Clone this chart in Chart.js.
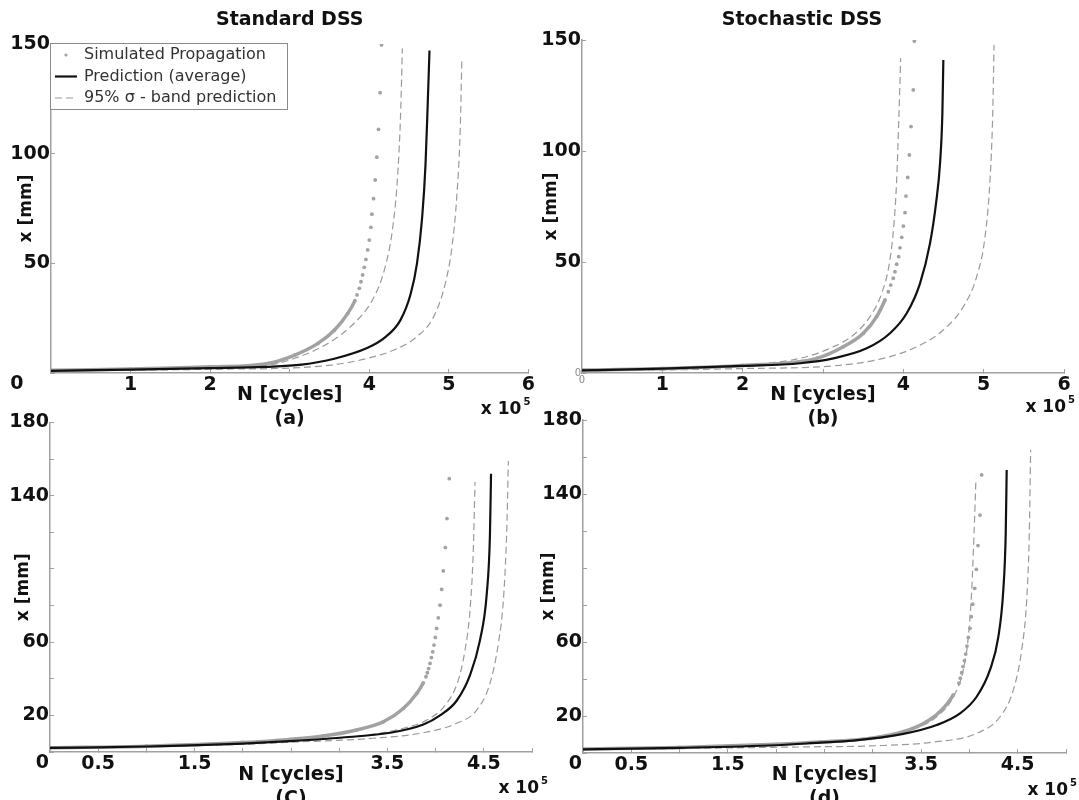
<!DOCTYPE html>
<html>
<head>
<meta charset="utf-8">
<script src="https://cdn.jsdelivr.net/npm/chart.js@4.4.1/dist/chart.umd.min.js"></script>
<style>
    html, body { margin: 0; padding: 0; background: #fff; overflow: hidden; }
    body { width: 1079px; height: 800px; position: relative; }
    canvas { position: absolute; }
</style>
</head>
<body>
<canvas id="chartA" width="540" height="440" style="left:0;top:0"></canvas>
<canvas id="chartB" width="539" height="440" style="left:540px;top:0"></canvas>
<canvas id="chartC" width="560" height="440" style="left:0;top:400px"></canvas>
<canvas id="chartD" width="539" height="440" style="left:540px;top:400px"></canvas>
<script>
// N in units of 1e5 cycles, x in mm

// (a) Standard DSS
var simA = [[0, 1.2], [1, 1.8], [2, 2.8], [2.73, 4.4], [3.065, 8.2], [3.355, 13.5], [3.564, 19.6], [3.73, 27.2], [3.82, 33],
    [3.846, 35.6], [3.875, 38.6], [3.896, 41.6], [3.917, 44.7], [3.937, 48.2], [3.958, 51.8], [3.98, 56.1], [4.0, 60.6],
    [4.02, 66.4], [4.033, 72.4], [4.054, 79.5], [4.075, 88], [4.095, 98.4], [4.116, 111.1], [4.137, 127.8], [4.154, 149.6]];
var avgA = [[0, 1.0], [1, 1.5], [2, 2.2], [2.7, 2.8], [3.15, 3.8], [3.56, 6.5], [3.98, 11.5], [4.19, 16], [4.39, 24],
    [4.52, 36], [4.60, 50], [4.665, 71], [4.707, 95], [4.736, 124], [4.757, 147]];
var lowA = [[0, 1.2], [1, 1.6], [2, 2.5], [2.73, 3.6], [3.065, 6.7], [3.48, 13.5], [3.81, 22.7], [4.04, 33.3], [4.19, 47],
    [4.29, 65], [4.353, 88], [4.394, 118], [4.416, 148]];
var upA = [[0, 1.0], [1, 1.3], [2, 1.7], [3.15, 2.5], [3.56, 3.8], [3.98, 6.7], [4.31, 10.5], [4.60, 16.6], [4.81, 25.7],
    [4.956, 40.9], [5.04, 57.6], [5.10, 80.4], [5.143, 110.8], [5.164, 143.5]];

// (b) Stochastic DSS
var simB = [[0, 1.3], [1, 2.0], [2, 3.4], [2.922, 6.6], [3.253, 11.8], [3.502, 17.9], [3.668, 25.4], [3.772, 32.9],
    [3.813, 36.6], [3.843, 39.6], [3.875, 42.7], [3.896, 45.6], [3.917, 49], [3.942, 52.4], [3.958, 56.4], [3.98, 61.1],
    [4.0, 66.2], [4.021, 72.2], [4.033, 79.7], [4.054, 88.1], [4.075, 98.2], [4.096, 111], [4.124, 127.5], [4.137, 149.5]];
var avgB = [[0, 1.2], [1, 2.0], [2, 3.2], [2.714, 4.4], [3.129, 6.6], [3.544, 11.1], [3.834, 17.9], [4.042, 26.9],
    [4.208, 40.4], [4.332, 58.4], [4.407, 76.4], [4.457, 94.5], [4.486, 117], [4.498, 141]];
var lowB = [[0, 1.3], [1, 2.1], [2, 3.5], [2.714, 6.6], [3.129, 11.8], [3.378, 17.1], [3.585, 25.4], [3.731, 35.9],
    [3.826, 49.4], [3.884, 67.4], [3.917, 86.9], [3.946, 117], [3.967, 141.8]];
var upB = [[0, 1.0], [1, 1.4], [2, 2.0], [3.129, 3.2], [3.751, 6.6], [4.166, 11.8], [4.498, 19.4], [4.747, 29.9],
    [4.913, 43.4], [5.017, 61.4], [5.079, 86.9], [5.113, 117], [5.129, 147.7]];

// (c)
var simC = [[0, 2.3], [1, 3.2], [2, 5.2], [2.49, 6.9], [2.835, 8.7], [3.181, 12.0], [3.458, 16.5], [3.665, 23.8],
    [3.804, 32.0], [3.873, 37.8], [3.9, 41.1], [3.914, 43.3], [3.928, 45.6], [3.942, 48.4], [3.956, 51.6], [3.97, 54.7],
    [3.983, 58.4], [3.997, 62.6], [4.011, 67.5], [4.028, 73.3], [4.046, 80.2], [4.063, 88.8], [4.08, 98.9], [4.101, 111.7],
    [4.118, 127.5], [4.142, 149.3]];
var avgC = [[0, 2.2], [1, 3.0], [2, 4.6], [2.49, 5.9], [3.008, 7.8], [3.527, 10.5], [3.873, 15], [4.046, 20], [4.218, 28],
    [4.357, 42], [4.46, 61], [4.53, 86], [4.564, 119], [4.575, 152]];
var lowC = [[0, 2.3], [1, 3.1], [2, 4.9], [2.49, 6.2], [3.181, 8.6], [3.631, 12.5], [3.942, 18.4], [4.115, 26.6],
    [4.236, 39.3], [4.305, 55.6], [4.357, 77.5], [4.391, 110.2], [4.409, 147.5]];
var upC = [[0, 2.1], [1, 2.8], [2, 4.2], [2.49, 5.3], [3.354, 7.5], [3.873, 10.5], [4.219, 15.7], [4.426, 22.9],
    [4.564, 37.5], [4.651, 59.3], [4.703, 82.9], [4.737, 119.3], [4.755, 159]];

// (d)
var simD = [[0, 2.1], [1, 3.0], [2, 4.7], [2.453, 5.9], [2.971, 7.9], [3.316, 11.5], [3.558, 16.9], [3.73, 24.1],
    [3.834, 31.4], [3.892, 37.7], [3.906, 40.4], [3.92, 43.4], [3.934, 46.7], [3.948, 49.9], [3.962, 53.5], [3.975, 57.8],
    [3.989, 62.5], [4.006, 67.4], [4.02, 73.7], [4.034, 80.4], [4.055, 89], [4.072, 99.3], [4.089, 112.1], [4.11, 128.6],
    [4.127, 150.3]];
var avgD = [[0, 2.0], [1, 2.8], [2, 4.2], [2.453, 5.6], [2.798, 6.7], [3.316, 10.3], [3.661, 15.1], [3.903, 21.4],
    [4.075, 30.4], [4.213, 44.9], [4.30, 62.9], [4.351, 88.1], [4.376, 118.7], [4.386, 153]];
var lowD = [[0, 2.1], [1, 3.0], [2, 4.6], [2.453, 6.0], [2.798, 7.4], [3.316, 11.5], [3.661, 19.6], [3.834, 30.4],
    [3.937, 44.9], [3.989, 62.9], [4.024, 88.1], [4.048, 118.7], [4.068, 148.5]];
var upD = [[0, 1.8], [1, 2.4], [2, 3.1], [2.453, 3.4], [2.971, 3.8], [3.661, 6.1], [4.075, 10.6], [4.317, 19.6],
    [4.455, 34.1], [4.541, 55.7], [4.593, 82.7], [4.62, 118.7], [4.634, 163.8]];

// ticks
var xTicksTop = [0, 1, 2, 3, 4, 5, 6];
var xLabelsTopA = ['', '1', '2', '', '4', '5', '6'];
var xLabelsTopB = ['0', '1', '2', '', '4', '5', '6'];
var yTicksTop = [0, 50, 100, 150];
var yLabelsTopA = [['', '0    '], '50', '100', '150'];
var yLabelsTopB = ['0', '50', '100', '150'];
var xTicksBottom = [0, 0.5, 1, 1.5, 2, 2.5, 3, 3.5, 4, 4.5, 5];
var xLabelsBottom = ['', '0.5', '', '1.5', '', '', '', '3.5', '', '4.5', ''];
var yTicksBottom = [0, 20, 40, 60, 80, 100, 120, 140, 160, 180];
var yLabelsBottom = [['', '0'], '20', '', '60', '', '', '', '140', '', '180'];

var FONT = '"DejaVu Sans", sans-serif';
var INK = '#111';
var DOT_GRAY = '#a2a2a2';
var DASH_GRAY = '#9a9a9a';
var AXIS_GRAY = '#a0a0a0';

Chart.defaults.font.family = FONT;
Chart.defaults.color = INK;
Chart.defaults.animation = false;

function toXY(rows) {
    return rows.map(function (r) { return {x: r[0], y: r[1]}; });
}

var boxLegend = {
    id: 'boxLegend',
    afterDatasetsDraw: function (chart, args, opts) {
        if (!opts.show) return;
        var ctx = chart.ctx;
        var area = chart.chartArea;
        var x0 = area.left - 1, y0 = area.top - 1, w = 237, h = 66;
        var ds = chart.data.datasets;
        ctx.save();
        ctx.fillStyle = '#fff';
        ctx.fillRect(x0, y0, w, h);
        ctx.strokeStyle = '#8a8a8a';
        ctx.lineWidth = 1;
        ctx.strokeRect(x0 + 0.5, y0 + 0.5, w, h);
        ctx.font = '16px ' + FONT;
        ctx.textBaseline = 'middle';
        for (var i = 0; i < 3; i++) {
            var d = ds[i];
            var cy = y0 + 12 + i * 21.5;
            if (i === 0) {
                ctx.fillStyle = d.pointBackgroundColor;
                ctx.beginPath();
                ctx.arc(x0 + 16, cy, 1.6, 0, Math.PI * 2);
                ctx.fill();
            } else {
                ctx.strokeStyle = d.borderColor;
                ctx.lineWidth = d.borderWidth;
                ctx.setLineDash(d.borderDash || []);
                ctx.beginPath();
                ctx.moveTo(x0 + 5, cy);
                ctx.lineTo(x0 + 27, cy);
                ctx.stroke();
                ctx.setLineDash([]);
            }
            ctx.fillStyle = '#333';
            ctx.fillText(d.label, x0 + 34, cy);
        }
        ctx.restore();
    }
};

var exponentLabel = {
    id: 'exponentLabel',
    afterDraw: function (chart, args, opts) {
        var ctx = chart.ctx;
        var x = chart.chartArea.right + opts.dx;
        var y = chart.chartArea.bottom + opts.dy;
        ctx.save();
        ctx.fillStyle = INK;
        ctx.textBaseline = 'middle';
        ctx.textAlign = 'right';
        ctx.font = 'bold 17px ' + FONT;
        ctx.fillText('x 10', x, y);
        ctx.textAlign = 'left';
        ctx.font = 'bold 10px ' + FONT;
        ctx.fillText('5', x + 2, y - 8);
        ctx.restore();
    }
};

function tickScale(values, labels, fit, extra) {
    var tinyZero = extra.tinyZero;
    return {
        type: 'linear',
        min: values[0],
        max: values[values.length - 1],
        afterBuildTicks: function (scale) {
            scale.ticks = values.map(function (v) { return {value: v}; });
        },
        afterFit: fit,
        ticks: {
            autoSkip: false,
            maxRotation: 0,
            padding: 5,
            color: function (c) { return tinyZero && c.tick && c.tick.value === 0 ? '#888' : INK; },
            font: function (c) {
                if (tinyZero && c.tick && c.tick.value === 0) return {size: 10, weight: 'normal'};
                return {size: 19, weight: 'bold'};
            },
            callback: function (value, i) { return labels[i]; }
        },
        grid: {drawOnChartArea: false, drawTicks: true, tickLength: -4, color: AXIS_GRAY, lineWidth: 1},
        border: {display: true, color: AXIS_GRAY, width: 1.5},
        title: extra.title
    };
}

function makePanel(id, p) {
    var datasets = [
        {
            label: 'Simulated Propagation',
            data: toXY(p.sim),
            showLine: true,
            borderColor: DOT_GRAY,
            borderWidth: 3.5,
            pointRadius: 1.9,
            pointBorderWidth: 0,
            pointBackgroundColor: DOT_GRAY,
            cubicInterpolationMode: 'monotone',
            segment: {
                borderColor: function (c) { return c.p1.parsed.y <= p.denseTop ? DOT_GRAY : 'rgba(0,0,0,0)'; }
            },
            order: 1
        },
        {
            label: 'Prediction (average)',
            data: toXY(p.avg),
            showLine: true,
            borderColor: INK,
            borderWidth: 2.2,
            pointRadius: 0,
            cubicInterpolationMode: 'monotone',
            order: 0
        },
        {
            label: '95% \u03c3 - band prediction',
            data: toXY(p.low),
            showLine: true,
            borderColor: DASH_GRAY,
            borderWidth: 1.2,
            borderDash: [7, 4],
            pointRadius: 0,
            cubicInterpolationMode: 'monotone',
            order: 2
        },
        {
            label: '95% \u03c3 - band prediction',
            data: toXY(p.up),
            showLine: true,
            borderColor: DASH_GRAY,
            borderWidth: 1.2,
            borderDash: [7, 4],
            pointRadius: 0,
            cubicInterpolationMode: 'monotone',
            order: 2
        }
    ];

    return new Chart(document.getElementById(id), {
        type: 'scatter',
        data: {datasets: datasets},
        plugins: [boxLegend, exponentLabel],
        options: {
            responsive: false,
            events: [],
            layout: {padding: {left: 0, top: p.padTop, right: p.padRight, bottom: 0}},
            plugins: {
                legend: {display: false},
                tooltip: {enabled: false},
                title: {
                    display: !!p.title,
                    text: p.title || '',
                    fullSize: p.titleFull,
                    font: {size: 19, weight: 'bold'},
                    color: INK,
                    padding: {top: 9, bottom: p.titleGap}
                },
                boxLegend: {show: !!p.legend},
                exponentLabel: {dx: p.expDx, dy: p.expDy}
            },
            scales: {
                x: tickScale(p.xTicks, p.xLabels, function (s) { s.height = p.xHeight; }, {
                    tinyZero: p.tinyZero,
                    title: {
                        display: true,
                        text: ['N [cycles]', p.tag],
                        color: INK,
                        font: {size: 19, weight: 'bold', lineHeight: 1.26},
                        padding: {top: 0, bottom: p.xTitlePad}
                    }
                }),
                y: tickScale(p.yTicks, p.yLabels, function (s) { s.width = p.yWidth; }, {
                    tinyZero: p.tinyZero,
                    title: {
                        display: true,
                        text: 'x [mm]',
                        color: INK,
                        font: {size: 17, weight: 'bold', lineHeight: 1},
                        padding: {top: p.yTitlePad, bottom: 0}
                    }
                })
            }
        }
    });
}

makePanel('chartA', {
    sim: simA, avg: avgA, low: lowA, up: upA, denseTop: 33,
    title: 'Standard DSS', titleFull: false, titleGap: 12.2, legend: true, tag: '(a)',
    xTicks: xTicksTop, xLabels: xLabelsTopA, yTicks: yTicksTop, yLabels: yLabelsTopA,
    padTop: 0, padRight: 8, yWidth: 51, xHeight: 67, xTitlePad: 9, yTitlePad: 18.5,
    expDx: -7, expDy: 37
});

makePanel('chartB', {
    sim: simB, avg: avgB, low: lowB, up: upB, denseTop: 33, tinyZero: true,
    title: 'Stochastic DSS', titleFull: true, titleGap: 8.2, tag: '(b)',
    xTicks: xTicksTop, xLabels: xLabelsTopB, yTicks: yTicksTop, yLabels: yLabelsTopB,
    padTop: 0, padRight: 15, yWidth: 42, xHeight: 67, xTitlePad: 9, yTitlePad: 3,
    expDx: 2, expDy: 35
});

makePanel('chartC', {
    sim: simC, avg: avgC, low: lowC, up: upC, denseTop: 38, tag: '(C)',
    xTicks: xTicksBottom, xLabels: xLabelsBottom, yTicks: yTicksBottom, yLabels: yLabelsBottom,
    padTop: 22.5, padRight: 28, yWidth: 50, xHeight: 88, xTitlePad: 29, yTitlePad: 15.5,
    expDx: 7, expDy: 37
});

makePanel('chartD', {
    sim: simD, avg: avgD, low: lowD, up: upD, denseTop: 37, tag: '(d)',
    xTicks: xTicksBottom, xLabels: xLabelsBottom, yTicks: yTicksBottom, yLabels: yLabelsBottom,
    padTop: 20, padRight: 13, yWidth: 43, xHeight: 87, xTitlePad: 29, yTitlePad: 0,
    expDx: 2, expDy: 38
});
</script>
</body>
</html>
